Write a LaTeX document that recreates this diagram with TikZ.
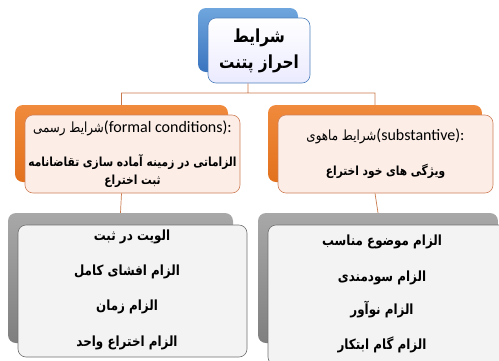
\documentclass[tikz,border=0pt]{standalone}
\usepackage{fontspec}
\usepackage{tikz}
\TeXXeTstate=1
\newfontfamily\fafont[Script=Arabic,FakeStretch=0.85]{DejaVu Sans}
\newfontfamily\latfont{Carlito}
\newcommand{\fa}[1]{{\fafont\beginR #1\endR}}
\definecolor{linkcol}{HTML}{C8784A}
\definecolor{bluedark}{HTML}{3A74BE}
\definecolor{bluelight}{HTML}{6FA6DE}
\definecolor{bluerim}{HTML}{4F81BD}
\definecolor{orangeback}{HTML}{E2711D}
\definecolor{orangelight}{HTML}{F08A3C}
\definecolor{pinkfill}{HTML}{FCEDE6}
\definecolor{pinkrim}{HTML}{D0805A}
\definecolor{grayback}{HTML}{7F7F7F}
\definecolor{graylight}{HTML}{A8A8A8}
\definecolor{grayfill}{HTML}{F3F3F3}
\definecolor{grayrim}{HTML}{707070}

\begin{document}
\begin{tikzpicture}[x=1pt,y=-1pt,
  back/.style={rounded corners=8pt,inner sep=0pt},
  front/.style={rounded corners=8pt,inner sep=2pt,line width=0.6pt,align=center},
  link/.style={draw=linkcol,line width=0.7pt},
  item/.style={font=\fontsize{14}{16}\selectfont\bfseries}]
\useasboundingbox (0,0) rectangle (499,360);
\clip (0,0) rectangle (499,360);

% top
\node (topb) [back,top color=bluelight,bottom color=bluedark,minimum width=100pt,minimum height=64pt] at (248,40) {};
\node (top) [front,draw=bluerim,top color=white,bottom color=blue!8,minimum width=102pt,minimum height=65pt,
  font=\fontsize{18}{26}\selectfont\bfseries] at (259,50.5) {\fa{شرایط}\\\fa{احراز پتنت}};

% middle
\node (formb) [back,top color=orangelight,bottom color=orangeback,minimum width=213pt,minimum height=77pt] at (121.5,143.5) {};
\node (form) [front,draw=pinkrim,fill=pinkfill,minimum width=215pt,minimum height=78pt,
  font=\fontsize{12.5}{18}\selectfont] at (132.5,154)
  {{\fontsize{14}{18}\selectfont\fa{شرایط رسمی}}{\latfont\fontsize{16}{18}\selectfont(formal conditions):}\\[16pt]
   \bfseries\fa{الزاماتی در زمینه آماده سازی تقاضانامه}\\\bfseries\fa{ثبت اختراع}};
\node (subb) [back,top color=orangelight,bottom color=orangeback,minimum width=214pt,minimum height=77pt] at (375,143.5) {};
\node (sub) [front,draw=pinkrim,fill=pinkfill,minimum width=215pt,minimum height=78pt,
  font=\fontsize{12.5}{18}\selectfont] at (385.5,154)
  {{\fontsize{14}{18}\selectfont\fa{شرایط ماهوی}}{\latfont\fontsize{16}{18}\selectfont(substantive):}\\[17pt]
   \bfseries\fa{ویژگی های خود اختراع}};

% bottom
\node (formlistb) [back,top color=graylight,bottom color=grayback,minimum width=225pt,minimum height=130pt] at (120.5,278) {};
\node (formlist) [front,draw=grayrim,fill=grayfill,minimum width=229pt,minimum height=132pt] at (132.5,291) {};
\node (sublistb) [back,top color=graylight,bottom color=grayback,minimum width=240pt,minimum height=130pt] at (378,278) {};
\node (sublist) [front,draw=grayrim,fill=grayfill,minimum width=242pt,minimum height=140pt] at (389,295) {};

\node (f1) [item] at (132,237) {\fa{الویت در ثبت}};
\node (f2) [item] at (127,272) {\fa{الزام افشای کامل}};
\node (f3) [item] at (127,307) {\fa{الزام زمان}};
\node (f4) [item] at (127,343) {\fa{الزام اختراع واحد}};
\node (s1) [item] at (382,242) {\fa{الزام موضوع مناسب}};
\node (s2) [item] at (382,278) {\fa{الزام سودمندی}};
\node (s3) [item] at (382,310) {\fa{الزام نوآور}};
\node (s4) [item] at (382,345) {\fa{الزام گام ابتکار}};

% connectors
\coordinate (bus) at (248,93);
\path[link]
  (top.south -| topb) -- (bus)
  (formb.north) |- (bus) -| (subb.north)
  (form.south -| formb) -- (formlistb.north)
  (sub.south -| subb) -- (sublistb.north);
\end{tikzpicture}
\end{document}
